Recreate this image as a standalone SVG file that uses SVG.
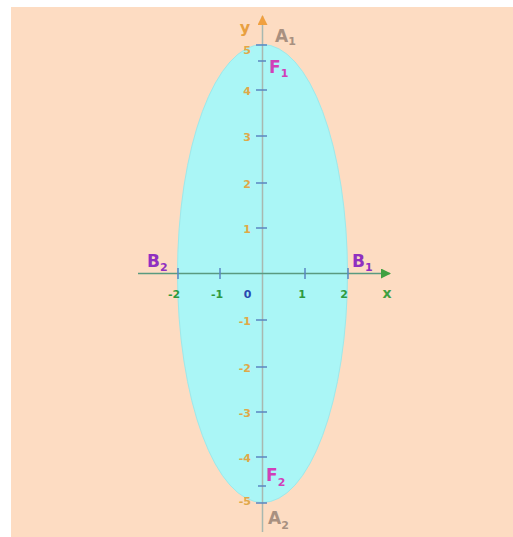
<svg xmlns="http://www.w3.org/2000/svg" width="513" height="537" viewBox="0 0 513 537">
<defs>
<style>
.tick{stroke:#5a86c0;stroke-width:1.5}
.yl{font-family:"DejaVu Sans",Verdana,sans-serif;font-weight:bold;font-size:11px;fill:#e0a848;text-anchor:end}
.xl{font-family:"DejaVu Sans",Verdana,sans-serif;font-weight:bold;font-size:11px;fill:#2e9a40;text-anchor:middle}
.lab{font-family:"DejaVu Sans",Verdana,sans-serif;font-weight:bold;font-size:17px}
.sub{font-size:11px}
</style>
<marker id="ay" viewBox="0 0 10 10" refX="9" refY="5" markerWidth="10" markerHeight="10" markerUnits="userSpaceOnUse" orient="auto"><path d="M0,0 L10,5 L0,10 z" fill="#f0a040"/></marker>
<marker id="ax" viewBox="0 0 10 10" refX="9" refY="5" markerWidth="10" markerHeight="10" markerUnits="userSpaceOnUse" orient="auto"><path d="M0,0 L10,5 L0,10 z" fill="#40a040"/></marker>
</defs>
<rect x="0" y="0" width="513" height="537" fill="#ffffff"/>
<rect x="11" y="7" width="502" height="530" fill="#fddcc2"/>
<g id="ellipse">
<ellipse cx="262.5" cy="273.5" rx="85" ry="229" fill="#aaf6f6" stroke="#9ee8ea" stroke-width="1"/>
</g>
<g id="connectors">
<line x1="262.5" y1="532" x2="262.5" y2="16" stroke="#a8b8b0" stroke-width="1.5" marker-end="url(#ay)"/>
<line x1="138" y1="273.5" x2="390" y2="273.5" stroke="#5a9a80" stroke-width="1.5" marker-end="url(#ax)"/>
</g>
<g id="yticks">
<line class="tick" x1="256" y1="45" x2="267" y2="45"/>
<line class="tick" x1="258" y1="61" x2="266" y2="61"/>
<line class="tick" x1="256" y1="90" x2="267" y2="90"/>
<line class="tick" x1="256" y1="136" x2="267" y2="136"/>
<line class="tick" x1="256" y1="183" x2="267" y2="183"/>
<line class="tick" x1="256" y1="228" x2="267" y2="228"/>
<line class="tick" x1="256" y1="320" x2="267" y2="320"/>
<line class="tick" x1="256" y1="367" x2="267" y2="367"/>
<line class="tick" x1="256" y1="412" x2="267" y2="412"/>
<line class="tick" x1="256" y1="457" x2="267" y2="457"/>
<line class="tick" x1="258" y1="486" x2="266" y2="486"/>
<line class="tick" x1="256" y1="503" x2="267" y2="503"/>
<text class="yl" x="251" y="54">5</text>
<text class="yl" x="251" y="95">4</text>
<text class="yl" x="251" y="141">3</text>
<text class="yl" x="251" y="188">2</text>
<text class="yl" x="251" y="233">1</text>
<text class="yl" x="251" y="325">-1</text>
<text class="yl" x="251" y="372">-2</text>
<text class="yl" x="251" y="417">-3</text>
<text class="yl" x="251" y="462">-4</text>
<text class="yl" x="251" y="505">-5</text>
</g>
<g id="xticks">
<line class="tick" x1="178" y1="268" x2="178" y2="279"/>
<line class="tick" x1="220" y1="268" x2="220" y2="279"/>
<line class="tick" x1="305" y1="268" x2="305" y2="279"/>
<line class="tick" x1="348" y1="268" x2="348" y2="279"/>
<text class="xl" x="174" y="298">-2</text>
<text class="xl" x="217" y="298">-1</text>
<text class="xl" x="247.5" y="298" style="fill:#2848b0">0</text>
<text class="xl" x="302" y="298">1</text>
<text class="xl" x="344" y="298">2</text>
</g>
<g id="axis-labels">
<text class="lab" x="245" y="33" style="fill:#e8a040;font-size:16px" text-anchor="middle">y</text>
<text class="lab" x="387" y="298" style="fill:#40a040;font-size:14px" text-anchor="middle">x</text>
</g>
<g id="A1"><text class="lab" x="275" y="42" fill="#a89080">A<tspan class="sub" dy="3">1</tspan></text></g>
<g id="F1"><text class="lab" x="269" y="73" fill="#d040b8">F<tspan class="sub" dy="4">1</tspan></text></g>
<g id="B2"><text class="lab" x="147" y="267" fill="#9030c0">B<tspan class="sub" dy="4">2</tspan></text></g>
<g id="B1"><text class="lab" x="352" y="267" fill="#9030c0">B<tspan class="sub" dy="4">1</tspan></text></g>
<g id="F2"><text class="lab" x="266" y="481" fill="#d040b8">F<tspan class="sub" dy="5">2</tspan></text></g>
<g id="A2"><text class="lab" x="268" y="524" fill="#a89080">A<tspan class="sub" dy="5">2</tspan></text></g>
</svg>
